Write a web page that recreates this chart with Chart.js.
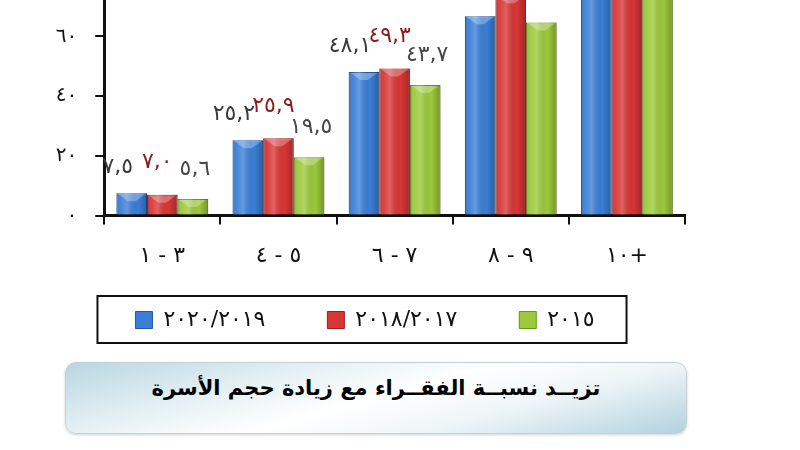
<!DOCTYPE html>
<html>
<head>
<meta charset="utf-8">
<script src="https://cdn.jsdelivr.net/npm/chart.js@4.4.1/dist/chart.umd.min.js"></script>
<style>
body { margin: 0; width: 800px; height: 450px; background: #fff; overflow: hidden; position: relative; font-family: "DejaVu Sans", sans-serif; }
#wrap { position: absolute; left: 0; top: -113px; width: 730px; height: 458px; }
#banner { position: absolute; left: 65px; top: 362px; width: 622px; height: 72px; box-sizing: border-box;
  border: 1px solid #c6d1d6; border-radius: 11px;
  background: linear-gradient(165deg, #b9d6e2 0%, #e6f1f5 30%, #ffffff 50%, #eef5f8 70%, #b2d2df 100%);
  box-shadow: 0 1px 3px rgba(0,0,0,0.18);
  text-align: center; }
#banner span { display: block; margin-top: 13px; font-weight: bold; font-size: 21px; color: #000; direction: rtl; }
</style>
</head>
<body>
<div id="wrap"><canvas id="my-graph"></canvas></div>
<div id="banner"><span>تزيــد نسبــة الفقــراء مع زيادة حجم الأسرة</span></div>
<script>
// household size groups
const categories = ["١ - ٣", "٤ - ٥", "٦ - ٧", "٨ - ٩", "١٠+"];
const series_names = ["٢٠٢٠/٢٠١٩", "٢٠١٨/٢٠١٧", "٢٠١٥"];
const values_2019 = [7.5, 25.2, 48.1, 66.8, 80.4];
const values_2017 = [7.0, 25.9, 49.3, 73.8, 84.6];
const values_2015 = [5.6, 19.5, 43.7, 64.7, 78.9];
const y_ticks = [0, 20, 40, 60, 80, 100];

const bar_colors = ["#3a7ed6", "#d83535", "#9cc93a"];
const edge_colors = ["#24589e", "#9e1f1f", "#6b9420"];
const label_colors = ["#3a3a3a", "#8c1b1b", "#474747"];
// label offsets from the bar top (x, y)
const label_dx = [-14, -5, 2];
const label_dy = [26, 32, 30];
// extra room after each legend entry (non-breaking spaces)
const legend_gap = [6, 6, 0];

function to_arabic(s) {
    const digits = "٠١٢٣٤٥٦٧٨٩";
    return String(s).replace(/[0-9]/g, d => digits[d]).replace(".", ",");
}

const shade_bars = {
    id: "shade_bars",
    afterDatasetsDraw(chart) {
        const ctx = chart.ctx;
        const area = chart.chartArea;
        ctx.save();
        ctx.beginPath();
        ctx.rect(area.left, area.top, area.right - area.left, area.bottom - area.top);
        ctx.clip();
        chart.data.datasets.forEach((ds, i) => {
            chart.getDatasetMeta(i).data.forEach(bar => {
                const p = bar.getProps(["x", "y", "base", "width"], true);
                const l = p.x - p.width / 2;
                const g = ctx.createLinearGradient(l, 0, l + p.width, 0);
                g.addColorStop(0, "rgba(0,0,0,0.22)");
                g.addColorStop(0.12, "rgba(255,255,255,0.05)");
                g.addColorStop(0.35, "rgba(255,255,255,0.22)");
                g.addColorStop(0.7, "rgba(0,0,0,0.0)");
                g.addColorStop(1, "rgba(0,0,0,0.25)");
                ctx.fillStyle = g;
                ctx.fillRect(l, p.y, p.width, p.base - p.y);
                // bevelled top
                ctx.fillStyle = "rgba(255,255,255,0.28)";
                ctx.beginPath();
                ctx.moveTo(l + 2, p.y + 1);
                ctx.lineTo(l + p.width - 2, p.y + 1);
                ctx.lineTo(l + p.width * 0.62, p.y + 8);
                ctx.lineTo(l + p.width * 0.38, p.y + 8);
                ctx.closePath();
                ctx.fill();
            });
        });
        ctx.restore();
        // value labels
        ctx.save();
        ctx.font = "22px 'DejaVu Sans'";
        ctx.textAlign = "center";
        ctx.textBaseline = "middle";
        chart.data.datasets.forEach((ds, i) => {
            ctx.fillStyle = label_colors[i];
            chart.getDatasetMeta(i).data.forEach((bar, j) => {
                const p = bar.getProps(["x", "y"], true);
                ctx.fillText(to_arabic(ds.data[j].toFixed(1)), p.x + label_dx[i], p.y - label_dy[i]);
            });
        });
        ctx.restore();
    },
    afterDraw(chart) {
        const boxes = chart.legend.legendHitBoxes;
        if (!boxes || !boxes.length) return;
        const left = Math.min(...boxes.map(b => b.left)) - 38;
        const right = Math.max(...boxes.map(b => b.left + b.width)) + 32;
        const top = Math.min(...boxes.map(b => b.top)) - 13;
        const bottom = Math.max(...boxes.map(b => b.top + b.height)) + 12;
        const ctx = chart.ctx;
        ctx.save();
        ctx.strokeStyle = "#111";
        ctx.lineWidth = 2;
        ctx.strokeRect(left, top, right - left, bottom - top);
        ctx.restore();
    }
};

const my_chart = new Chart("my-graph", {
    type: "bar",
    data: {
        labels: categories.map(c => "\u202D" + c + "\u202C"),
        datasets: [
            { label: series_names[0], data: values_2019 },
            { label: series_names[1], data: values_2017 },
            { label: series_names[2], data: values_2015 }
        ].map((ds, i) => Object.assign(ds, {
            backgroundColor: bar_colors[i],
            borderColor: edge_colors[i],
            borderWidth: 1,
            categoryPercentage: 0.79,
            barPercentage: 1.0
        }))
    },
    options: {
        responsive: true,
        maintainAspectRatio: false,
        animation: false,
        layout: { padding: { left: 45, right: 45, top: 1, bottom: 4 } },
        plugins: {
            legend: {
                position: "bottom",
                labels: {
                    font: { family: "DejaVu Sans", size: 22 },
                    color: "#111",
                    boxWidth: 17,
                    boxHeight: 17,
                    padding: 20,
                    generateLabels: chart => Chart.defaults.plugins.legend.labels.generateLabels(chart)
                        .map((item, i) => Object.assign(item, { text: item.text + "\u00A0".repeat(legend_gap[i]) }))
                }
            },
            tooltip: { enabled: false }
        },
        scales: {
            x: {
                grid: { display: true, offset: true, drawOnChartArea: false, tickLength: 9, color: "#111", lineWidth: 2 },
                border: { color: "#111", width: 3 },
                ticks: { font: { family: "DejaVu Sans", size: 22 }, color: "#111", padding: 18 },
                afterFit: s => { s.height += 2; }
            },
            y: {
                min: 0,
                max: 100,
                afterBuildTicks: axis => { axis.ticks = y_ticks.map(v => ({ value: v })); },
                afterFit: s => { s.width -= 18; },
                grid: { display: true, drawOnChartArea: false, tickLength: 9, color: "#111", lineWidth: 2 },
                border: { color: "#111", width: 3 },
                ticks: { font: { family: "DejaVu Sans", size: 20 }, color: "#111", padding: 18,
                    callback: v => to_arabic(v) }
            }
        }
    },
    plugins: [shade_bars]
});
</script>
</body>
</html>
